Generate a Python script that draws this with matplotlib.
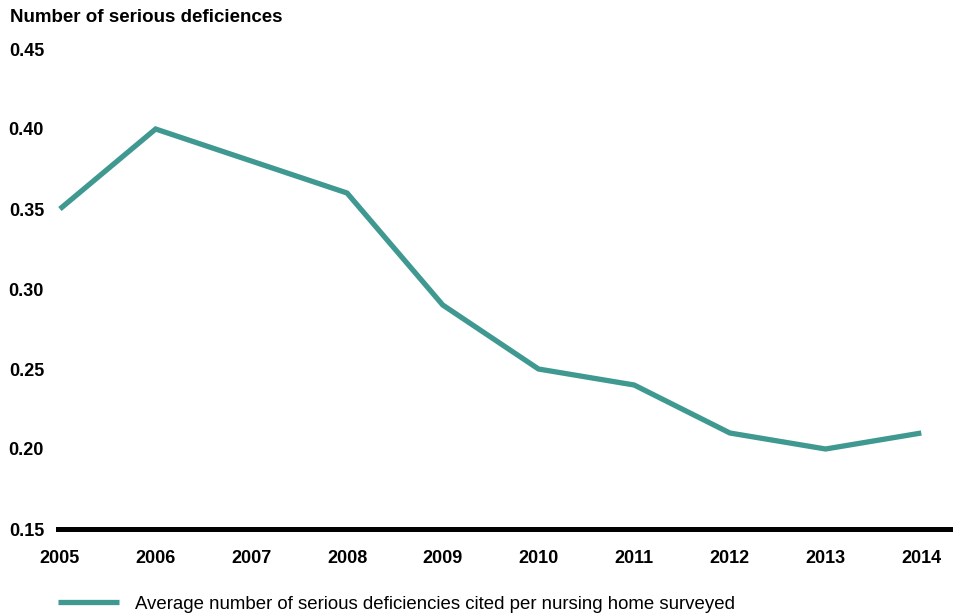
import matplotlib.pyplot as plt

years = [2005, 2006, 2007, 2008, 2009, 2010, 2011, 2012, 2013, 2014]
avg_deficiencies = [0.35, 0.40, 0.38, 0.36, 0.29, 0.25, 0.24, 0.21, 0.20, 0.21]
y_ticks = [0.15, 0.20, 0.25, 0.30, 0.35, 0.40, 0.45]

TEAL = "#3f9990"

plt.rcParams["font.family"] = ["Liberation Sans", "DejaVu Sans"]

fig = plt.figure(figsize=(9.61, 6.16), dpi=100)
ax = fig.add_axes([58 / 961, 1 - 529 / 616, (950 - 58) / 961, (529 - 49) / 616])

line, = ax.plot(years, avg_deficiencies, color=TEAL, linewidth=3.8,
                solid_joinstyle="miter", solid_capstyle="butt")

ax.set_xlim(2004.98, 2014.30)
ax.set_ylim(0.15, 0.45)
ax.set_xticks(years)
ax.set_xticklabels([str(y) for y in years])
ax.set_yticks(y_ticks)
ax.set_yticklabels([f"{v:.2f}" for v in y_ticks])

for side in ("top", "right", "left"):
    ax.spines[side].set_visible(False)
ax.spines["bottom"].set_linewidth(3.6)
ax.spines["bottom"].set_color("black")

ax.tick_params(axis="both", length=0, labelsize=13)
ax.tick_params(axis="x", pad=15)
ax.tick_params(axis="y", pad=10)
for lbl in ax.get_xticklabels() + ax.get_yticklabels():
    lbl.set_fontweight("bold")

fig.text(10 / 961, 1 - 18 / 616, "Number of serious deficiences",
         fontsize=13.5, fontweight="bold", va="center", ha="left")

fig.legend([line], ["Average number of serious deficiencies cited per nursing home surveyed"],
           loc="center left", bbox_to_anchor=(41 / 961, 1 - 604 / 616),
           frameon=False, fontsize=13.45, handlelength=3.3, handletextpad=0.85)

fig.savefig("out.png", dpi=100)
